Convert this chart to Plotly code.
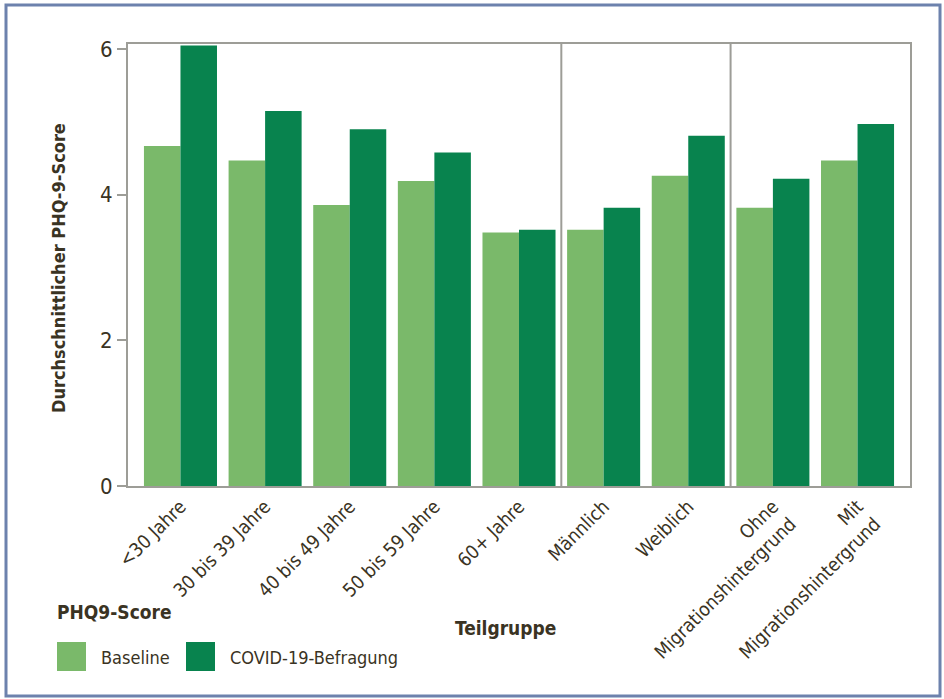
import plotly.graph_objects as go

categories = ["<30 Jahre", "30 bis 39 Jahre", "40 bis 49 Jahre", "50 bis 59 Jahre", "60+ Jahre",
              "Männlich", "Weiblich", "Ohne<br>Migrationshintergrund", "Mit<br>Migrationshintergrund"]
group_sizes = [5, 2, 2]
baseline = [4.67, 4.47, 3.86, 4.19, 3.48, 3.52, 4.26, 3.82, 4.47]
covid = [6.05, 5.15, 4.90, 4.58, 3.52, 3.82, 4.81, 4.22, 4.97]
series_names = ["Baseline", "COVID-19-Befragung"]
y_ticks = [0, 2, 4, 6]

C_BASE = "#7AB96A"
C_COVID = "#08834E"
TXT = "#3a3323"
GRAY = "#9d9d97"
FONT = "DejaVu Sans Condensed, Liberation Sans Narrow, Roboto Condensed, Roboto, sans-serif"

idx = list(range(len(categories)))

fig = go.Figure()
fig.add_bar(x=idx, y=baseline, name=series_names[0], marker_color=C_BASE, marker_line_width=0, showlegend=False)
fig.add_bar(x=idx, y=covid, name=series_names[1], marker_color=C_COVID, marker_line_width=0, showlegend=False)

W, H = 944, 699
L, R, T, B = 128, 34, 44, 213
pw, ph = W - L - R, H - T - B


def px(x):
    return (x - L) / pw


def py(y):
    return (H - B - y) / ph


shapes = []
# group separators
pos = 0
for g in group_sizes[:-1]:
    pos += g
    shapes.append(dict(type="line", xref="x", yref="paper", x0=pos - 0.5, x1=pos - 0.5, y0=0, y1=1,
                       line=dict(color=GRAY, width=2)))
# outer frame
shapes.append(dict(type="rect", xref="paper", yref="paper", x0=px(6), x1=px(940), y0=py(696), y1=py(5),
                   line=dict(color="#6d82ad", width=3), layer="below"))
# legend swatches
shapes.append(dict(type="rect", xref="paper", yref="paper", x0=px(57), x1=px(86), y0=py(671), y1=py(642),
                   fillcolor=C_BASE, line=dict(width=0)))
shapes.append(dict(type="rect", xref="paper", yref="paper", x0=px(186), x1=px(215), y0=py(671), y1=py(642),
                   fillcolor=C_COVID, line=dict(width=0)))

annotations = [
    dict(text="<b>Durchschnittlicher PHQ-9-Score</b>", xref="paper", yref="paper", x=px(58), y=py(268),
         textangle=-90, showarrow=False, font=dict(size=18, color=TXT, family=FONT), xanchor="center", yanchor="middle"),
    dict(text="<b>Teilgruppe</b>", xref="paper", yref="paper", x=px(505), y=py(628),
         showarrow=False, font=dict(size=19, color=TXT, family=FONT), xanchor="center", yanchor="middle"),
    dict(text="<b>PHQ9-Score</b>", xref="paper", yref="paper", x=px(55), y=py(612),
         showarrow=False, font=dict(size=19, color=TXT, family=FONT), xanchor="left", yanchor="middle"),
    dict(text=series_names[0], xref="paper", yref="paper", x=px(99), y=py(657),
         showarrow=False, font=dict(size=18, color=TXT, family=FONT), xanchor="left", yanchor="middle"),
    dict(text=series_names[1], xref="paper", yref="paper", x=px(228), y=py(657),
         showarrow=False, font=dict(size=18, color=TXT, family=FONT), xanchor="left", yanchor="middle"),
]

fig.update_layout(
    width=W, height=H,
    margin=dict(l=L, r=R, t=T, b=B, pad=0),
    paper_bgcolor="white", plot_bgcolor="white",
    barmode="group", bargap=0.137, bargroupgap=0,
    font=dict(family=FONT, color=TXT),
    shapes=shapes, annotations=annotations,
    showlegend=False,
)
fig.update_xaxes(
    tickmode="array", tickvals=idx, ticktext=categories, tickangle=-45,
    range=[-0.62, len(categories) - 1 + 0.62],
    showline=True, mirror=True, linecolor=GRAY, linewidth=2,
    showgrid=False, zeroline=False, ticks="",
    tickfont=dict(size=19, color=TXT, family=FONT),
)
fig.update_yaxes(
    tickmode="array", tickvals=y_ticks, range=[0, 6.07],
    showline=True, mirror=True, linecolor=GRAY, linewidth=2,
    showgrid=False, zeroline=False, ticks="outside", ticklen=9, tickwidth=2, tickcolor=GRAY,
    tickfont=dict(size=22, color=TXT, family=FONT),
)

fig.write_html("out.html", config={"displayModeBar": False},
               post_script="document.body.style.margin='0';document.body.style.overflow='hidden';")
